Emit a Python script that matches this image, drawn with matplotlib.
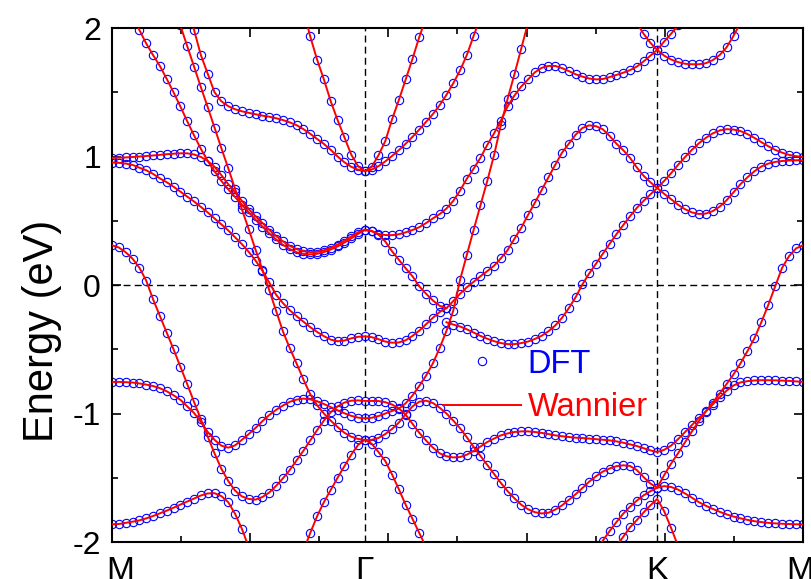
import numpy as np
import matplotlib
matplotlib.use('Agg')
import matplotlib.pyplot as plt
from matplotlib.ticker import MultipleLocator
from matplotlib.lines import Line2D

plt.rcParams['font.family'] = ['Liberation Sans', 'DejaVu Sans']
plt.rcParams['axes.unicode_minus'] = False

# path M-G-K-M, position as fraction of total path length
k_M0, k_G, k_K, k_M1 = 0.0, 0.366, 0.789, 1.0
n_MG, n_GK, n_KM = 37, 43, 21
kpath = np.concatenate([np.linspace(k_M0, k_G, n_MG + 1),
                        np.linspace(k_G, k_K, n_GK + 1)[1:],
                        np.linspace(k_K, k_M1, n_KM + 1)[1:]])

sym_labels = ['M', 'Γ', 'K', 'M']
sym_label_pos = [0.012, k_G, k_K, 0.996]

# bands: (index of first k point, energies in eV)
band1 = (0, [-1.862, -1.860, -1.851, -1.842, -1.832, -1.816, -1.798, -1.777, -1.756, -1.733,
             -1.709, -1.685, -1.662, -1.638, -1.622, -1.620, -1.643, -1.690, -1.780, -1.897,
             -2.04])

band2 = (0, [-0.754, -0.754, -0.756, -0.759, -0.766, -0.775, -0.786, -0.803, -0.827, -0.858,
             -0.893, -0.944, -0.996, -1.065, -1.143, -1.205, -1.250, -1.266, -1.248, -1.205,
             -1.160, -1.112, -1.060, -1.012, -0.972, -0.938, -0.909, -0.892, -0.884, -0.890,
             -0.905, -0.926, -0.950, -0.975, -0.998, -1.018, -1.032, -1.037, -1.033, -1.020,
             -1.000, -0.980, -0.962, -0.920, -0.860, -0.785, -0.705, -0.610, -0.490, -0.357,
             -0.20, 0.04, 0.235, 0.43, 0.62, 0.81, 1.01, 1.245, 1.45, 1.64,
             1.84, 2.04])

band3 = (0, [0.309, 0.292, 0.255, 0.205, 0.135, 0.035, -0.11, -0.24, -0.37, -0.50,
             -0.635, -0.77, -0.91, -1.045, -1.18, -1.31, -1.43, -1.525, -1.60, -1.645,
             -1.665, -1.670, -1.650, -1.615, -1.563, -1.505, -1.44, -1.365, -1.29, -1.21,
             -1.13, -1.055, -0.99, -0.945, -0.915, -0.900, -0.898, -0.902, -0.902, -0.903,
             -0.912, -0.930, -0.960, -1.01, -1.08, -1.15, -1.21, -1.265, -1.31, -1.333,
             -1.342, -1.339, -1.320, -1.292, -1.257, -1.222, -1.195, -1.170, -1.155, -1.144,
             -1.139, -1.139, -1.144, -1.151, -1.160, -1.170, -1.177, -1.183, -1.188, -1.191,
             -1.195, -1.200, -1.204, -1.209, -1.217, -1.227, -1.240, -1.253, -1.270, -1.287,
             -1.300, -1.283, -1.250, -1.200, -1.145, -1.090, -1.035, -0.983, -0.930, -0.875,
             -0.822, -0.782, -0.758, -0.748, -0.743, -0.741, -0.741, -0.742, -0.744, -0.746,
             -0.750, -0.754])

band4 = (0, [0.953, 0.951, 0.945, 0.935, 0.913, 0.893, 0.865, 0.83, 0.80, 0.765,
             0.727, 0.688, 0.650, 0.608, 0.565, 0.518, 0.472, 0.425, 0.372, 0.318,
             0.258, 0.190, 0.112, 0.02, -0.075, -0.14, -0.196, -0.242, -0.285, -0.328,
             -0.365, -0.398, -0.425, -0.438, -0.432, -0.415, -0.403, -0.399, -0.406, -0.422,
             -0.440, -0.449, -0.447, -0.430, -0.396, -0.355, -0.305, -0.255, -0.21, -0.18])

band5 = (0, [0.990, 0.991, 0.993, 0.996, 1.000, 1.004, 1.008, 1.013, 1.018, 1.022,
             1.025, 1.025, 1.016, 0.997, 0.965, 0.920, 0.855, 0.785, 0.722, 0.655,
             0.592, 0.535, 0.483, 0.430, 0.382, 0.340, 0.305, 0.280, 0.263, 0.256,
             0.258, 0.270, 0.290, 0.315, 0.345, 0.378, 0.410, 0.432, 0.422, 0.392,
             0.338, 0.262, 0.196, 0.130, 0.068, -0.010, -0.068, -0.120, -0.162, -0.180,
             -0.125, -0.068, -0.017, 0.025, 0.068, 0.108, 0.150, 0.208, 0.272, 0.360,
             0.445, 0.545, 0.640, 0.738, 0.838, 0.935, 1.030, 1.100, 1.170, 1.222,
             1.243, 1.236, 1.212, 1.160, 1.100, 1.050, 0.990, 0.915, 0.850, 0.800,
             0.755, 0.710, 0.668, 0.625, 0.590, 0.565, 0.553, 0.556, 0.575, 0.610,
             0.660, 0.722, 0.785, 0.838, 0.885, 0.922, 0.945, 0.958, 0.965, 0.969,
             0.971, 0.971])

band6 = (3, [2.09, 1.985, 1.88, 1.79, 1.705, 1.605, 1.50, 1.39, 1.275, 1.165,
             1.06, 0.965, 0.885, 0.81, 0.745, 0.685, 0.625, 0.565, 0.508, 0.455,
             0.402, 0.355, 0.313, 0.280, 0.255, 0.242, 0.238, 0.243, 0.256, 0.276,
             0.300, 0.330, 0.362, 0.398, 0.428, 0.418, 0.398, 0.389, 0.388, 0.395,
             0.410, 0.428, 0.450, 0.482, 0.518, 0.552, 0.595, 0.655, 0.735, 0.828,
             0.906, 0.990, 1.090, 1.180, 1.28, 1.39, 1.475, 1.545, 1.600, 1.655,
             1.690, 1.705, 1.705, 1.688, 1.665, 1.640, 1.622, 1.607, 1.600, 1.603,
             1.618, 1.635, 1.652, 1.672, 1.700, 1.740, 1.785, 1.830, 1.895, 1.955,
             2.02, 2.10])

band7 = (10, [2.02, 1.86, 1.70, 1.54, 1.385, 1.225, 1.065, 0.91, 0.75, 0.59,
              0.435, 0.275, 0.12, -0.04, -0.20, -0.36, -0.49, -0.61, -0.735, -0.85,
              -0.935, -1.00, -1.055, -1.105, -1.15, -1.18, -1.198, -1.205, -1.205, -1.19,
              -1.16, -1.12, -1.07, -1.005, -0.945, -0.908, -0.900, -0.918, -0.955, -1.00,
              -1.055, -1.115, -1.185, -1.26, -1.33, -1.40, -1.47, -1.54, -1.605, -1.66,
              -1.71, -1.745, -1.768, -1.778, -1.772, -1.748, -1.715, -1.672, -1.628, -1.580,
              -1.530, -1.488, -1.452, -1.428, -1.410, -1.403, -1.408, -1.440, -1.495, -1.545,
              -1.578, -1.565, -1.572, -1.592, -1.622, -1.655, -1.690, -1.718, -1.742, -1.765,
              -1.785, -1.802, -1.816, -1.828, -1.838, -1.845, -1.851, -1.855, -1.858, -1.860,
              -1.862, -1.863])

band8 = (11, [2.17, 1.985, 1.79, 1.645, 1.50, 1.43, 1.392, 1.368, 1.352, 1.340,
              1.329, 1.318, 1.310, 1.298, 1.284, 1.266, 1.244, 1.213, 1.177, 1.137,
              1.098, 1.052, 1.000, 0.955, 0.920, 0.897, 0.887, 0.898, 0.925, 0.962,
              1.005, 1.05, 1.10, 1.153, 1.21, 1.27, 1.33, 1.40, 1.48, 1.57,
              1.67, 1.79, 1.94, 2.08])

band9 = (28, [2.14, 1.935, 1.755, 1.60, 1.43, 1.285, 1.15, 1.015, 0.925, 0.885,
              0.92, 1.01, 1.12, 1.29, 1.44, 1.60, 1.76, 1.93, 2.08])

band10 = (28, [-2.07, -1.93, -1.80, -1.69, -1.595, -1.50, -1.41, -1.32, -1.245, -1.205,
               -1.235, -1.30, -1.37, -1.475, -1.59, -1.71, -1.82, -1.93, -2.04])

band11 = (49, [-0.29, -0.308, -0.323, -0.345, -0.370, -0.396, -0.418, -0.437, -0.452, -0.460,
               -0.460, -0.452, -0.440, -0.420, -0.395, -0.360, -0.315, -0.255, -0.180, -0.095,
               0.005, 0.09, 0.166, 0.243, 0.32, 0.395, 0.466, 0.535, 0.600, 0.655,
               0.705, 0.755, 0.81, 0.87, 0.935, 0.995, 1.052, 1.103, 1.145, 1.180,
               1.203, 1.213, 1.210, 1.198, 1.175, 1.145, 1.112, 1.080, 1.052, 1.030,
               1.013, 1.002, 0.997])

band12 = (70, [-2.12, -2.06, -1.99, -1.915, -1.845, -1.78, -1.725, -1.678, -1.637, -1.605,
               -1.578, -1.48, -1.39, -1.31, -1.225, -1.14, -1.06, -0.985, -0.915, -0.845,
               -0.77, -0.695, -0.61, -0.515, -0.415, -0.29, -0.155, -0.01, 0.135, 0.225,
               0.285, 0.309])

band13 = (74, [-2.03, -1.96, -1.885, -1.83, -1.77, -1.715, -1.665, -1.76, -1.89, -2.03])

band14 = (77, [2.04, 1.955, 1.885, 1.830, 1.785, 1.755, 1.735, 1.722, 1.718, 1.718,
               1.726, 1.75, 1.79, 1.85, 1.94, 2.04])

bands = [band1, band2, band3, band4, band5, band6, band7,
         band8, band9, band10, band11, band12, band13, band14]

fig = plt.figure(figsize=(8.11, 5.79), dpi=100)
ax = fig.add_axes([0.1381, 0.0639, 0.8520, 0.8877])

# DFT points as open circles, Wannier bands as red lines on top
for start, e in bands:
    k = kpath[start:start + len(e)]
    ax.plot(k, e, 'o', ms=6, mfc='none', mec='#0000ff', mew=0.8, zorder=2)
for start, e in bands:
    k = kpath[start:start + len(e)]
    ax.plot(k, e, '-', color='#ff0000', lw=1.4, zorder=3)

ax.axhline(0, color='k', lw=1.0, ls=(0, (5, 3)), zorder=1)
for kk in (k_G, k_K):
    ax.axvline(kk, color='k', lw=1.0, ls=(0, (5, 3)), zorder=1)

ax.set_xlim(0, 1)
ax.set_ylim(-2, 2)
ax.xaxis.set_major_locator(MultipleLocator(0.2))
ax.xaxis.set_minor_locator(MultipleLocator(0.1))
ax.yaxis.set_major_locator(MultipleLocator(1))
ax.yaxis.set_minor_locator(MultipleLocator(0.5))
ax.tick_params(which='both', direction='in', top=True, right=True,
               labelbottom=False, width=1.2)
ax.tick_params(which='major', length=6.5)
ax.tick_params(which='minor', length=4.2)
ax.tick_params(axis='y', labelsize=23, pad=8)
for s in ax.spines.values():
    s.set_linewidth(1.5)

for lab, pos in zip(sym_labels, sym_label_pos):
    ax.text(pos, -0.028, lab, transform=ax.get_xaxis_transform(),
            ha='center', va='top', fontsize=24)

ax.set_ylabel('Energy (eV)', fontsize=30)
ax.yaxis.set_label_coords(-0.072, 0.41)

handles = [Line2D([], [], ls='none', marker='o', ms=6, mfc='none', mec='#0000ff', mew=0.8),
           Line2D([], [], color='#ff0000', lw=1.4)]
ax.legend(handles, ['DFT', 'Wannier'], loc='upper left', bbox_to_anchor=(0.479, 0.376),
          frameon=False, fontsize=23.5, handlelength=2.4, handletextpad=0.2,
          borderpad=0, borderaxespad=0, labelspacing=0.38, labelcolor=['#0000ff', '#ff0000'])

fig.savefig('out.png', dpi=100)
